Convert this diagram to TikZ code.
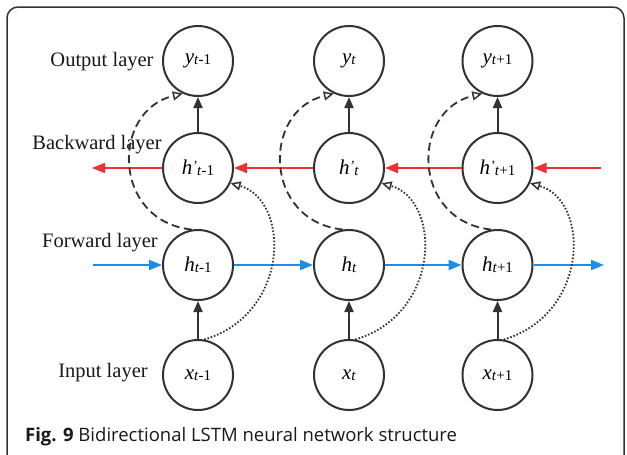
\documentclass[tikz,border=0pt]{standalone}
\usepackage{fontspec}
\setmainfont{Liberation Serif}
\newfontfamily\capfont{Open Sans}
\usetikzlibrary{arrows.meta}
\definecolor{ink}{RGB}{50,50,50}
\definecolor{fblue}{RGB}{30,140,235}
\definecolor{bred}{RGB}{235,50,50}
\newcommand\lsub[1]{\raisebox{-1pt}{\fontsize{15}{15}\selectfont #1}}
\newcommand\lpr{\raisebox{4pt}{\fontsize{14}{14}\selectfont\textit{'}}}
\tikzset{
  neuron/.style={circle,draw=ink,line width=2pt,minimum size=70pt,inner sep=0pt,font=\fontsize{21}{21}\selectfont},
  laylabel/.style={font=\fontsize{20.5}{20.5}\selectfont,text=black!90,inner sep=0pt},
  upar/.style={draw=ink,line width=2pt,-{Triangle[length=11pt,width=9pt]}},
  fwdar/.style={draw=fblue,line width=2pt,-{Triangle[length=13pt,width=10pt]}},
  bwdar/.style={draw=bred,line width=2pt,-{Triangle[length=13pt,width=10pt]}},
  dashar/.style={draw=ink,line width=1.8pt,dash pattern=on 8pt off 4.5pt,-{Triangle[open,length=10pt,width=9pt,line width=1.5pt]}},
  dotar/.style={draw=ink,line width=1.8pt,dash pattern=on 1.6pt off 1.8pt,-{Triangle[open,length=10pt,width=9pt,line width=1.5pt]}},
}
\begin{document}
\begin{tikzpicture}[x=1pt,y=-1pt]
\useasboundingbox (0,0) rectangle (627,455);
\clip (0,0) rectangle (627,455);
\fill[white] (0,0) rectangle (627,455);
\draw[ink,line width=1.5pt,rounded corners=11pt] (7,480) -- (7,7) -- (624,7) -- (624,480);

% layer labels
\node[laylabel] (lout) at (102,62) {Output layer};
\node[laylabel] (lbwd) at (97,145) {Backward layer};
\node[laylabel] (lfwd) at (100,243) {Forward layer};
\node[laylabel] (lin) at (103,373) {Input layer};

% neurons
\node[neuron] (y1) at (198,61) {\textit{y}\lsub{\textit{t}-1}};
\node[neuron] (y2) at (349,61) {\textit{y}\lsub{\textit{t}}};
\node[neuron] (y3) at (497.5,61) {\textit{y}\lsub{\textit{t}+1}};
\node[neuron] (hb1) at (198,168) {\textit{h}\lpr\lsub{\textit{t}-1}};
\node[neuron] (hb2) at (349,168) {\textit{h}\lpr\lsub{\textit{t}}};
\node[neuron] (hb3) at (497.5,168) {\textit{h}\lpr\lsub{\textit{t}+1}};
\node[neuron] (h1) at (198,265) {\textit{h}\lsub{\textit{t}-1}};
\node[neuron] (h2) at (349,265) {\textit{h}\lsub{\textit{t}}};
\node[neuron] (h3) at (497.5,265) {\textit{h}\lsub{\textit{t}+1}};
\node[neuron] (x1) at (198,375) {\textit{x}\lsub{\textit{t}-1}};
\node[neuron] (x2) at (349,375) {\textit{x}\lsub{\textit{t}}};
\node[neuron] (x3) at (497.5,375) {\textit{x}\lsub{\textit{t}+1}};

\coordinate (fin) at (93,265);
\coordinate (fout) at (604,265);
\coordinate (bin) at (601,168);
\coordinate (bout) at (92,168);

% vertical arrows
\foreach \i in {1,2,3}{
  \draw[upar] (hb\i.north) -- (y\i.south);
  \draw[upar] (x\i.north) -- (h\i.south);
}
% forward
\draw[fwdar] (fin) -- (h1.west);
\draw[fwdar] (h1.east) -- (h2.west);
\draw[fwdar] (h2.east) -- (h3.west);
\draw[fwdar] (h3.east) -- (fout);
% backward
\draw[bwdar] (bin) -- (hb3.east);
\draw[bwdar] (hb3.west) -- (hb2.east);
\draw[bwdar] (hb2.west) -- (hb1.east);
\draw[bwdar] (hb1.west) -- (bout);
% dashed and dotted
\foreach \i in {1,2,3}{
  \draw[dashar] (h\i.100) .. controls +(-80,-8.5) and +(-72,17) .. (y\i.245);
  \draw[dotar] (x\i.80) .. controls +(86,-25.5) and +(60,17) .. (hb\i.-25);
}

% caption
\node[anchor=west,inner sep=0pt,font=\capfont\fontsize{18.5}{18.5}\selectfont,text=black!90] (cap) at (25,437) {\textbf{Fig. 9} Bidirectional LSTM neural network structure};
\end{tikzpicture}
\end{document}
